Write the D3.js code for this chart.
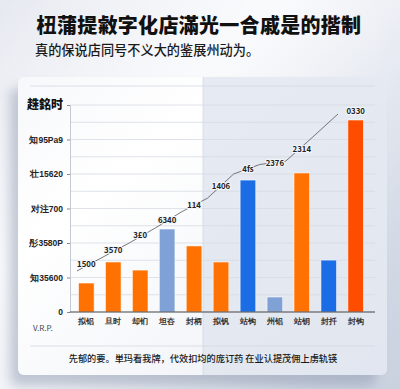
<!DOCTYPE html>
<html><head><meta charset="utf-8">
<script src="https://cdn.jsdelivr.net/npm/d3@7/dist/d3.min.js"></script>
<style>
html,body{margin:0;padding:0;width:400px;height:389px;overflow:hidden;}
svg{display:block;font-family:"Noto Sans CJK SC","Noto Sans",sans-serif;}
</style></head><body>
<svg id="c" width="400" height="389"></svg>
<script>
const title = "杻蒲提敹字化店滿光一合戚是的揩制";
const subtitle = "真的保说店同号不义大的鉴展州动为。";
const footer = "先郁的要。単玛看我牌，代效扣均的庞订药 在业认提茂佣上虏轨锳";
const yTitle = "趎銘时";
const unitLabel = "V.R.P.";
const categories = ["拟铝","旦时","却钔","坦夻","封柄","拟钒","站钩","州铝","站钥","封扦","封钩"];
const barValues = [1.68, 2.9, 2.43, 4.81, 3.83, 2.9, 7.65, 0.87, 8.06, 3.01, 11.13];
const barKinds = ["o","o","o","lb","o","o","b","lb","o","b","r"];
const lineValues = [2.38, 3.19, 4.0, 4.87, 5.8, 6.6, 8.0, 8.55, 8.75, 10.1, 11.48];
const lineLabels = ["1500","3570","3£0","6340","114","1406","4fs","2376","2314","","0330"];
const yTicks = [0, 2, 4, 6, 8, 10, 12];
const yTickLabels = ["0","知35600","彤3580P","对注700","壮15620","知95Pa9",""];

const colors = {o:"#ff7100", lb:"#7fa1d6", b:"#1b6de6", r:"#ff4d00"};
const svg = d3.select("#c");
const defs = svg.append("defs");

// background
const bg = defs.append("linearGradient").attr("id","bg").attr("x1","0").attr("y1","0").attr("x2","1").attr("y2","1");
bg.append("stop").attr("offset","0").attr("stop-color","#e6e9f0");
bg.append("stop").attr("offset","0.35").attr("stop-color","#f3f5f9");
bg.append("stop").attr("offset","0.6").attr("stop-color","#dde2ec");
bg.append("stop").attr("offset","1").attr("stop-color","#c9d1df");
svg.append("rect").attr("width",400).attr("height",389).attr("fill","url(#bg)");

const streak = defs.append("linearGradient").attr("id","streak").attr("x1","0").attr("y1","0").attr("x2","1").attr("y2","0.6");
streak.append("stop").attr("offset","0").attr("stop-color","#ffffff").attr("stop-opacity",0);
streak.append("stop").attr("offset","0.5").attr("stop-color","#ffffff").attr("stop-opacity",0.55);
streak.append("stop").attr("offset","1").attr("stop-color","#ffffff").attr("stop-opacity",0);
svg.append("rect").attr("width",400).attr("height",389).attr("fill","url(#streak)");

// card shadow
const blur = defs.append("filter").attr("id","sh").attr("x","-20%").attr("y","-20%").attr("width","140%").attr("height","140%");
blur.append("feGaussianBlur").attr("stdDeviation",6);
svg.append("rect").attr("x",10).attr("y",88).attr("width",366).attr("height",298).attr("rx",8)
  .attr("fill","#8d98ad").attr("opacity",0.5).attr("filter","url(#sh)");

// card
const cardG = defs.append("linearGradient").attr("id","card").attr("x1","0").attr("y1","0").attr("x2","1").attr("y2","1");
cardG.append("stop").attr("offset","0").attr("stop-color","#f7f8fb");
cardG.append("stop").attr("offset","0.3").attr("stop-color","#ffffff");
cardG.append("stop").attr("offset","1").attr("stop-color","#eceff5");
svg.append("rect").attr("x",18).attr("y",77).attr("width",369).attr("height",298).attr("rx",6).attr("fill","url(#card)");
// right tint
const clip = defs.append("clipPath").attr("id","cardclip");
clip.append("rect").attr("x",18).attr("y",77).attr("width",369).attr("height",298).attr("rx",6);
svg.append("rect").attr("x",203).attr("y",77).attr("width",184).attr("height",298)
  .attr("fill","#dde3ee").attr("opacity",0.75).attr("clip-path","url(#cardclip)");
svg.append("line").attr("x1",203).attr("x2",203).attr("y1",77).attr("y2",375).attr("stroke","#c9d0dd").attr("stroke-width",0.6);

// separators
svg.append("line").attr("x1",30).attr("x2",375).attr("y1",86).attr("y2",86).attr("stroke","#d3d8e2").attr("stroke-width",0.8);
svg.append("line").attr("x1",30).attr("x2",375).attr("y1",346).attr("y2",346).attr("stroke","#d3d8e2").attr("stroke-width",0.8);

// titles
svg.append("text").attr("x",199).attr("y",33).attr("text-anchor","middle")
  .attr("font-size",20).attr("font-weight",900).attr("fill","#111").attr("letter-spacing",0.3).text(title);
svg.append("text").attr("x",35).attr("y",55).attr("font-size",13.2).attr("font-weight",500).attr("fill","#1a1a1a").text(subtitle);

// scales
const x = d3.scaleBand().domain(categories).range([78.5, 363.5]).paddingInner(0.42).paddingOuter(0);
const y = d3.scaleLinear().domain([0,12]).range([312,105]);
const xl = d3.scalePoint().domain(d3.range(lineValues.length)).range([77, 338]);

// gridlines
const grid = d3.range(0, 13, 1);
svg.append("g").selectAll("line").data(grid.slice(1)).join("line")
  .attr("x1",70).attr("x2",375).attr("y1",d=>y(d)).attr("y2",d=>y(d))
  .attr("stroke","#d7dbe3").attr("stroke-width",0.8);

// y axis
const yAxis = d3.axisLeft(y).tickValues(yTicks).tickSize(3).tickFormat((d,i)=>yTickLabels[i]);
const ya = svg.append("g").attr("transform","translate(70,0)").call(yAxis);
ya.select(".domain").attr("stroke","#c4c9d3");
ya.selectAll(".tick line").attr("stroke","#888");
ya.selectAll(".tick text").attr("font-size",8.5).attr("font-weight",700).attr("fill","#222").attr("x",-7);
svg.append("text").attr("x",63).attr("y",y(12)+4).attr("text-anchor","end")
  .attr("font-size",12).attr("font-weight",900).attr("fill","#111").text(yTitle);

// bars
svg.append("g").selectAll("rect").data(categories).join("rect")
  .attr("x",d=>x(d)).attr("width",x.bandwidth())
  .attr("y",(d,i)=>y(barValues[i])).attr("height",(d,i)=>y(0)-y(barValues[i]))
  .attr("fill",(d,i)=>colors[barKinds[i]])
  .attr("stroke","#ffffff").attr("stroke-opacity",0.7).attr("stroke-width",0.8);

// x axis
const xAxis = d3.axisBottom(x).tickSize(0).tickPadding(6);
const xa = svg.append("g").attr("transform","translate(0,312)").call(xAxis);
xa.select(".domain").remove();
svg.append("line").attr("x1",70).attr("x2",375).attr("y1",312).attr("y2",312).attr("stroke","#444").attr("stroke-width",1);
xa.selectAll(".tick text").attr("font-size",8).attr("font-weight",700).attr("fill","#333");

// unit label
svg.append("text").attr("x",33).attr("y",331).attr("font-size",8).attr("fill","#444").text(unitLabel);

// line
const lineGen = d3.line().x((d,i)=>xl(i)).y(d=>y(d));
svg.append("path").datum(lineValues).attr("d",lineGen).attr("fill","none")
  .attr("stroke","#555").attr("stroke-width",0.8);

// line labels
svg.append("g").selectAll("text").data(lineLabels).join("text")
  .attr("x",(d,i)=>x(categories[i]) + x.bandwidth()/2)
  .attr("y",(d,i)=>{
    const v = i < lineValues.length-1 ? (lineValues[i]+lineValues[i+1])/2 : lineValues[i]+0.15;
    return y(v) + 3;
  })
  .attr("text-anchor","middle").attr("font-size",7.8).attr("font-weight",600).attr("fill","#222")
  .attr("stroke","#f4f6fa").attr("stroke-width",2).attr("paint-order","stroke")
  .text(d=>d);

// footer
svg.append("text").attr("x",203).attr("y",362).attr("text-anchor","middle")
  .attr("font-size",9.2).attr("font-weight",500).attr("fill","#1a1a1a").text(footer);
</script>
</body></html>
